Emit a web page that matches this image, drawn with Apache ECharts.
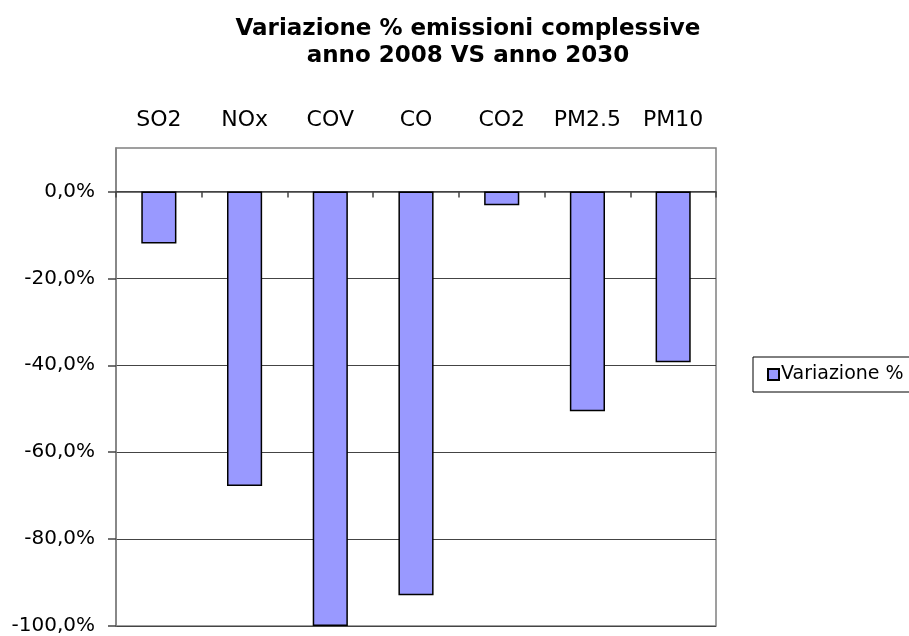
<!DOCTYPE html>
<html><head><meta charset="utf-8">
<script src="https://cdn.jsdelivr.net/npm/echarts@6/dist/echarts.min.js"></script>
<style>html,body{margin:0;padding:0;background:#fff}#c{width:909px;height:636px}</style>
</head><body><div id="c"></div>
<script>
var categories = ['SO2', 'NOx', 'COV', 'CO', 'CO2', 'PM2.5', 'PM10'];
var values = [-12.0, -67.8, -100.0, -92.9, -3.2, -50.6, -39.3];
var seriesName = 'Variazione %';
var yTicks = [-100, -80, -60, -40, -20, 0];
var titleLines = ['Variazione % emissioni complessive', 'anno 2008 VS anno 2030'];

var chart = echarts.init(document.getElementById('c'));
var font = 'DejaVu Sans, sans-serif';
chart.setOption({
  backgroundColor: '#fff',
  animation: false,
  title: {
    text: titleLines.join('\n'),
    left: 463, top: 11, textAlign: 'center',
    textStyle: { fontFamily: font, fontSize: 23, fontWeight: 'bold', color: '#000', lineHeight: 27 }
  },
  legend: {
    left: 753, top: 357,
    padding: [8, 40, 8, 14],
    borderColor: '#000', borderWidth: 1,
    itemWidth: 11, itemHeight: 11, itemGap: 2,
    icon: 'rect',
    textStyle: { fontFamily: font, fontSize: 19, color: '#000', padding: [0, 0, 0, -3] },
    data: [seriesName]
  },
  grid: { left: 116, right: 193, top: 148, bottom: 10, show: true, borderColor: '#808080', borderWidth: 1.5 },
  xAxis: [
    { type: 'category', data: categories, position: 'top',
      axisLine: { show: false, onZero: false }, axisTick: { show: false },
      axisLabel: { fontFamily: font, fontSize: 22, color: '#000', margin: 17, interval: 0, hideOverlap: false } },
    { type: 'category', data: categories, position: 'bottom',
      axisLine: { show: true, onZero: true, lineStyle: { color: '#444', width: 1.5 } },
      axisTick: { show: true, length: 6, interval: 0, lineStyle: { color: '#444', width: 1.5 } },
      axisLabel: { show: false } }
  ],
  yAxis: {
    type: 'value', min: -100, max: 10, interval: 20,
    axisLine: { show: true, lineStyle: { color: '#808080', width: 1.5 } },
    axisTick: { show: true, length: 8, customValues: yTicks, lineStyle: { color: '#444', width: 1.5 } },
    splitLine: { show: true, lineStyle: { color: '#444', width: 1 } },
    axisLabel: { fontFamily: font, fontSize: 20, color: '#000', margin: 21, customValues: yTicks,
      formatter: function (v) { return yTicks.indexOf(v) >= 0 ? v.toFixed(1).replace('.', ',') + '%' : ''; } }
  },
  series: [{
    name: seriesName, type: 'bar', data: values, xAxisIndex: 0, barWidth: '41%',
    itemStyle: { color: '#9999FF', borderColor: '#000', borderWidth: 1.5 }
  }]
});
</script></body></html>
